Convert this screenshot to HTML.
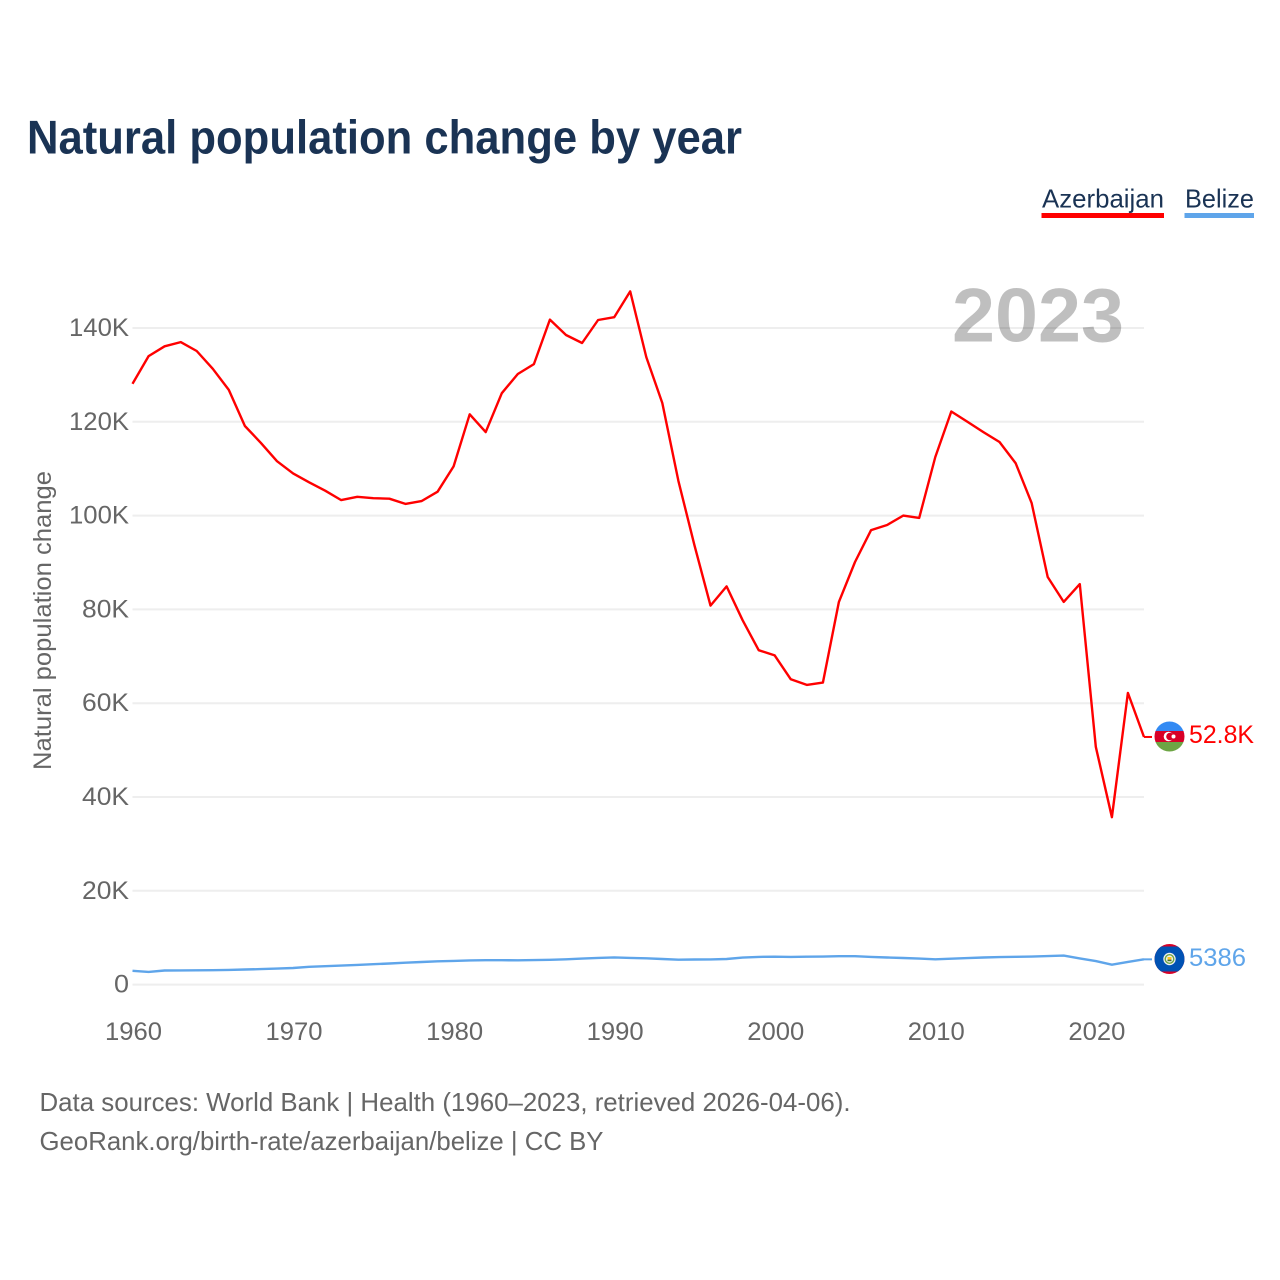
<!DOCTYPE html>
<html lang="en">
<head>
<meta charset="utf-8">
<title>Natural population change by year</title>
<style>
html,body{margin:0;padding:0;background:#fff;width:1280px;height:1280px;overflow:hidden}
svg{display:block}
text{font-family:"Liberation Sans",sans-serif}
</style>
</head>
<body>
<svg id="chart" xmlns="http://www.w3.org/2000/svg" width="1280" height="1280" viewBox="0 0 1280 1280">
  <defs>
    <clipPath id="flag-clip-az"><circle cx="1169.5" cy="736.5" r="15"/></clipPath>
    <clipPath id="flag-clip-bz"><circle cx="1169.5" cy="959" r="15"/></clipPath>
  </defs>
  <text x="27" y="153.5" font-size="47" font-weight="700" fill="#1a3354" textLength="715" lengthAdjust="spacingAndGlyphs">Natural population change by year</text>

  <g id="grid"></g>
  <text x="952" y="341.5" font-size="76" font-weight="700" fill="#000" fill-opacity="0.25" textLength="172" lengthAdjust="spacingAndGlyphs">2023</text>
  <g id="y-ticks"></g>
  <g id="x-ticks"></g>
  <text transform="translate(51,770) rotate(-90)" font-size="25" fill="#666" textLength="299" lengthAdjust="spacingAndGlyphs">Natural population change</text>

  <polyline id="line-belize" fill="none" stroke="#5fa5ea" stroke-width="2.4" stroke-linejoin="round"></polyline>
  <polyline id="line-azerbaijan" fill="none" stroke="#ff0000" stroke-width="2.4" stroke-linejoin="round"></polyline>
  <line id="stub-belize" stroke="#5fa5ea" stroke-width="2"></line>
  <line id="stub-azerbaijan" stroke="#ff0000" stroke-width="2"></line>

  <g clip-path="url(#flag-clip-az)">
    <rect x="1154" y="721" width="31" height="11" fill="#338af3"/>
    <rect x="1154" y="731" width="31" height="11" fill="#d80027"/>
    <rect x="1154" y="742" width="31" height="11" fill="#6da544"/>
    <circle cx="1168.5" cy="736.5" r="4.8" fill="#fff"/>
    <circle cx="1170" cy="736.5" r="3.8" fill="#d80027"/>
    <circle cx="1173.5" cy="736.5" r="2" fill="#fff"/>
  </g>
  <g clip-path="url(#flag-clip-bz)">
    <rect x="1154" y="943" width="31" height="32" fill="#d80027"/>
    <rect x="1154" y="946.5" width="31" height="25" fill="#0052b4"/>
    <circle cx="1169.5" cy="959" r="6.2" fill="#f0f0f0"/>
    <circle cx="1169.5" cy="959" r="5" fill="#6da544"/>
    <circle cx="1169.5" cy="959" r="3.6" fill="#f0f0f0"/>
    <rect x="1167.5" y="957" width="4" height="2.6" fill="#ffc61b"/>
    <rect x="1167.5" y="959.6" width="4" height="1.6" fill="#496e2d"/>
  </g>

  <text x="1189" y="743" font-size="25" fill="#ff0000" textLength="65" lengthAdjust="spacingAndGlyphs">52.8K</text>
  <text x="1189" y="966" font-size="25" fill="#5fa5ea" textLength="57" lengthAdjust="spacingAndGlyphs">5386</text>

  <g>
    <text x="1042" y="207.5" font-size="26" fill="#1a3354" textLength="122" lengthAdjust="spacingAndGlyphs">Azerbaijan</text>
    <rect x="1041.5" y="213" width="122.5" height="5" fill="#ff0000"/>
  </g>
  <g>
    <text x="1185" y="207.5" font-size="26" fill="#1a3354" textLength="69" lengthAdjust="spacingAndGlyphs">Belize</text>
    <rect x="1184.5" y="213" width="69.5" height="5" fill="#5fa5ea"/>
  </g>

  <text x="39.5" y="1111" font-size="26" fill="#666" textLength="811" lengthAdjust="spacingAndGlyphs">Data sources: World Bank | Health (1960–2023, retrieved 2026-04-06).</text>
  <a><text x="39.5" y="1150" font-size="26" fill="#666" textLength="564" lengthAdjust="spacingAndGlyphs">GeoRank.org/birth-rate/azerbaijan/belize | CC BY</text></a>
</svg>
<script>
const startYear = 1960;
const azerbaijanValues = [128100,134000,136100,137000,135100,131300,126800,119100,115500,111600,
  109000,107100,105300,103300,104000,103700,103600,102500,103100,105100,
  110500,121600,117800,126100,130200,132300,141800,138500,136800,141700,
  142300,147800,133800,124000,107400,93700,80800,84900,77700,71300,
  70200,65100,63900,64400,81600,90100,96900,98000,100000,99500,
  112500,122200,120000,117800,115700,111200,102700,86900,81600,85400,
  50700,35700,62200,52800];
const belizeValues = [2950,2700,3000,3020,3040,3080,3130,3210,3300,3420,
  3530,3800,3930,4050,4200,4350,4500,4680,4820,4960,
  5050,5150,5200,5200,5180,5220,5280,5390,5550,5700,
  5800,5700,5600,5450,5300,5360,5370,5450,5750,5900,
  5950,5900,5950,5980,6050,6050,5900,5780,5680,5550,
  5400,5520,5650,5780,5860,5930,5980,6080,6180,5580,
  5000,4250,4850,5386];
const yTickValues = [0,20000,40000,60000,80000,100000,120000,140000];
const yTickLabels = ["0","20K","40K","60K","80K","100K","120K","140K"];
const xTickYears = [1960,1970,1980,1990,2000,2010,2020];

const plot = {left:132.5, right:1144, zero:984.6, top:328};
const SVG_NS = "http://www.w3.org/2000/svg";
const lastYear = startYear + azerbaijanValues.length - 1;
function xScale(year){ return plot.left + (year - startYear) * (plot.right - plot.left) / (lastYear - startYear); }
function yScale(v){ return plot.zero - v * (plot.zero - plot.top) / 140000; }
function toPoints(values){ return values.map(function(v,i){ return xScale(startYear+i).toFixed(1)+","+yScale(v).toFixed(1); }).join(" "); }

const grid = document.getElementById("grid");
const yTicks = document.getElementById("y-ticks");
const xTicks = document.getElementById("x-ticks");
const tickWidths = {1:15, 3:47, 4:60};

yTickValues.forEach(function(v,i){
  const line = document.createElementNS(SVG_NS,"line");
  
  
  line.setAttribute("x1", plot.left);
  line.setAttribute("x2", plot.right);
  line.setAttribute("y1", yScale(v));
  line.setAttribute("y2", yScale(v));
  line.setAttribute("stroke", "#eeeeee");
  line.setAttribute("stroke-width", "2");
  grid.appendChild(line);

  const label = document.createElementNS(SVG_NS,"text");
  
  
  const w = tickWidths[yTickLabels[i].length];
  label.setAttribute("x", 129 - w);
  label.setAttribute("y", yScale(v) + 8);
  label.setAttribute("font-size", "25");
  label.setAttribute("fill", "#666");
  label.setAttribute("textLength", w);
  label.setAttribute("lengthAdjust", "spacingAndGlyphs");
  label.textContent = yTickLabels[i];
  yTicks.appendChild(label);
});

xTickYears.forEach(function(year){
  const label = document.createElementNS(SVG_NS,"text");
  
  
  label.setAttribute("x", xScale(year) - 27.5);
  label.setAttribute("y", 1040);
  label.setAttribute("font-size", "25");
  label.setAttribute("fill", "#666");
  label.setAttribute("textLength", "57");
  label.setAttribute("lengthAdjust", "spacingAndGlyphs");
  label.textContent = year;
  xTicks.appendChild(label);
});

document.getElementById("line-azerbaijan").setAttribute("points", toPoints(azerbaijanValues));
document.getElementById("line-belize").setAttribute("points", toPoints(belizeValues));

function setStub(id, values){
  const el = document.getElementById(id);
  const last = values[values.length-1];
  el.setAttribute("x1", xScale(lastYear));
  el.setAttribute("x2", xScale(lastYear) + 8);
  el.setAttribute("y1", yScale(last));
  el.setAttribute("y2", yScale(last));
}
setStub("stub-azerbaijan", azerbaijanValues);
setStub("stub-belize", belizeValues);
</script>
</body>
</html>
